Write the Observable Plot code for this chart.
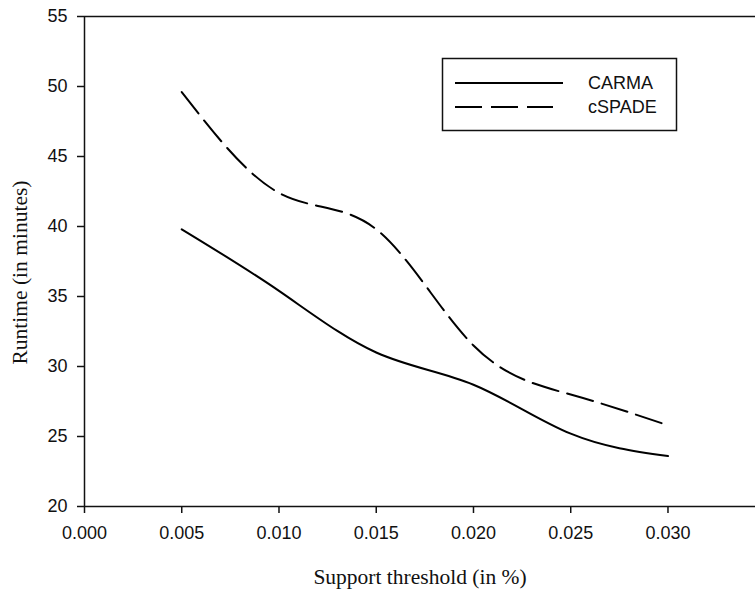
<!DOCTYPE html>
<html>
<head>
<meta charset="utf-8">
<script src="https://cdn.jsdelivr.net/npm/d3@7"></script>
<script src="https://cdn.jsdelivr.net/npm/@observablehq/plot@0.6"></script>
<style>
  html, body { margin: 0; padding: 0; background: white; }
  #wrap { position: relative; width: 755px; height: 590px; overflow: hidden; }
  #legend { position: absolute; left: 0; top: 0; }
</style>
</head>
<body>
<div id="wrap"></div>
<script>
const thresholds = [0.005, 0.010, 0.015, 0.020, 0.025, 0.030];
const carma  = [39.8, 35.4, 31.0, 28.7, 25.2, 23.6];
const cspade = [49.6, 42.4, 39.8, 31.5, 28.0, 25.8];
const xTicks = [0, 0.005, 0.010, 0.015, 0.020, 0.025, 0.030];
const yTicks = [20, 25, 30, 35, 40, 45, 50, 55];
const seriesNames = ["CARMA", "cSPADE"];

const rows = [
  ...thresholds.map((t, i) => ({x: t, y: carma[i], s: seriesNames[0]})),
  ...thresholds.map((t, i) => ({x: t, y: cspade[i], s: seriesNames[1]}))
];

const xMax = 0.0345;
const tickFont = "'Liberation Sans', Arial, sans-serif";
const titleFont = "'Liberation Serif', 'Times New Roman', serif";

const chart = Plot.plot({
  width: 755,
  height: 590,
  marginLeft: 84,
  marginRight: 0,
  marginTop: 16,
  marginBottom: 84,
  style: {background: "white", overflow: "visible", fontSize: "18px", fontFamily: tickFont},
  x: {domain: [0, xMax]},
  y: {domain: [20, 55]},
  marks: [
    Plot.axisX({ticks: xTicks, tickFormat: d3.format(".3f"), tickSize: 7, tickPadding: 13,
      fontSize: 18, fontFamily: tickFont, label: null, strokeWidth: 1.5, color: "#111"}),
    Plot.axisY({ticks: yTicks, tickSize: 7, tickPadding: 10,
      fontSize: 18, fontFamily: tickFont, label: null, strokeWidth: 1.5, color: "#111"}),
    Plot.ruleY([20], {x1: 0, x2: xMax, stroke: "#111", strokeWidth: 1.5}),
    Plot.ruleY([55], {x1: 0, x2: xMax, stroke: "#111", strokeWidth: 1.5}),
    Plot.ruleX([0], {y1: 20, y2: 55, stroke: "#111", strokeWidth: 1.5}),
    Plot.line(rows.filter(d => d.s === "CARMA"), {x: "x", y: "y", curve: "natural",
      stroke: "black", strokeWidth: 2}),
    Plot.line(rows.filter(d => d.s === "cSPADE"), {x: "x", y: "y", curve: "natural",
      stroke: "black", strokeWidth: 2, strokeDasharray: "27,9"}),
    Plot.text(["Support threshold (in %)"], {frameAnchor: "bottom", dy: 71, lineAnchor: "middle",
      fontSize: 21.5, fontFamily: titleFont, fill: "#111"}),
    Plot.text(["Runtime (in minutes)"], {frameAnchor: "left", dx: -64, dy: 11, rotate: -90,
      textAnchor: "middle", lineAnchor: "middle", fontSize: 21.5, fontFamily: titleFont, fill: "#111"})
  ]
});

const wrap = document.getElementById("wrap");
wrap.appendChild(chart);

// Legend overlay
const ns = "http://www.w3.org/2000/svg";
const lg = document.createElementNS(ns, "svg");
lg.setAttribute("id", "legend");
lg.setAttribute("width", 755);
lg.setAttribute("height", 590);
const box = document.createElementNS(ns, "rect");
box.setAttribute("x", 442.5); box.setAttribute("y", 58.5);
box.setAttribute("width", 234); box.setAttribute("height", 72);
box.setAttribute("fill", "white"); box.setAttribute("stroke", "#111"); box.setAttribute("stroke-width", 1.5);
lg.appendChild(box);
const legendItems = [
  {name: seriesNames[0], y: 83, x2: 563, dash: null},
  {name: seriesNames[1], y: 107, x2: 553, dash: "27,9"}
];
legendItems.forEach(it => {
  const l = document.createElementNS(ns, "line");
  l.setAttribute("x1", 455); l.setAttribute("x2", it.x2);
  l.setAttribute("y1", it.y); l.setAttribute("y2", it.y);
  l.setAttribute("stroke", "black"); l.setAttribute("stroke-width", 2);
  if (it.dash) l.setAttribute("stroke-dasharray", it.dash);
  lg.appendChild(l);
  const t = document.createElementNS(ns, "text");
  t.setAttribute("x", 588); t.setAttribute("y", it.y);
  t.setAttribute("dominant-baseline", "central");
  t.setAttribute("font-family", tickFont);
  t.setAttribute("font-size", 18);
  t.setAttribute("fill", "#111");
  t.textContent = it.name;
  lg.appendChild(t);
});
wrap.appendChild(lg);
</script>
</body>
</html>
